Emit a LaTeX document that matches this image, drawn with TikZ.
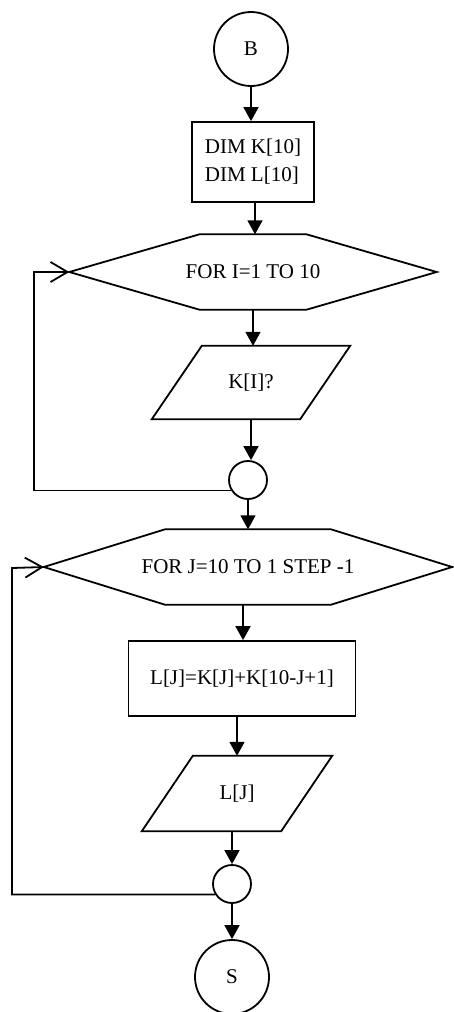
\documentclass[tikz,border=0pt]{standalone}
\usepackage{fontspec}
\setmainfont{Liberation Serif}
\usetikzlibrary{arrows.meta,calc}
\begin{document}
\begin{tikzpicture}[x=1pt,y=-1pt,
  every node/.style={font=\fontsize{21}{28}\selectfont, inner sep=0pt},
  line/.style={line width=1.8pt, line join=miter},
  arr/.style={line, -{Triangle[length=14pt,width=15pt]}},
  barb/.style={line, -{Straight Barb[length=17pt,width=20pt,line width=1.8pt]}},
  term/.style={circle, draw, line width=1.8pt, minimum size=74pt},
  junction/.style={circle, draw, line width=1.8pt, minimum size=38pt},
  procbox/.style={rectangle, draw, line width=1.8pt},
  shapebox/.style={rectangle, draw=none}
]
\useasboundingbox (0,0) rectangle (453,1012);

\node[term] (B) at (251,49) {B};
\node[procbox, minimum width=122pt, minimum height=80pt, align=left] (box) at (253,162) {DIM K[10]\\DIM L[10]};

\node[shapebox, minimum width=367pt, minimum height=75pt] (h1) at (253,272) {FOR I=1 TO 10};
\draw[line] (h1.west) -- ([xshift=-53.5pt]h1.north) -- ([xshift=53.5pt]h1.north) -- (h1.east)
  -- ([xshift=53.5pt]h1.south) -- ([xshift=-53.5pt]h1.south) -- cycle;

\node[shapebox, minimum width=148pt, minimum height=73pt] (p1) at (251,382.5) {K[I]?};
\draw[line] ([xshift=25pt]p1.north west) -- ([xshift=25pt]p1.north east)
  -- ([xshift=-25pt]p1.south east) -- ([xshift=-25pt]p1.south west) -- cycle;

\node[junction] (c1) at (248,480) {};

\node[shapebox, minimum width=408pt, minimum height=75pt] (h2) at (248,567) {FOR J=10 TO 1 STEP -1};
\draw[line] (h2.west) -- ([xshift=-83pt]h2.north) -- ([xshift=83pt]h2.north) -- (h2.east)
  -- ([xshift=83pt]h2.south) -- ([xshift=-83pt]h2.south) -- cycle;

\node[procbox, minimum width=227pt, minimum height=75pt] (r2) at (242,678.5) {L[J]=K[J]+K[10-J+1]};

\node[shapebox, minimum width=139pt, minimum height=75pt] (p2) at (237,793.5) {L[J]};
\draw[line] ([xshift=25.5pt]p2.north west) -- ([xshift=25.5pt]p2.north east)
  -- ([xshift=-25.5pt]p2.south east) -- ([xshift=-25.5pt]p2.south west) -- cycle;

\node[junction] (c2) at (232,884) {};
\node[term] (S) at (232,977) {S};

% main flow
\draw[arr] (B.south) -- (B.south |- box.north);
\draw[arr] ([xshift=2pt]box.south) -- ([xshift=2pt]box.south |- h1.north);
\draw[arr] (h1.south) -- (h1.south |- p1.north);
\draw[arr] (p1.south) -- (p1.south |- c1.north);
\draw[arr] (c1.south) -- (c1.south |- h2.north);
\draw[arr] ([xshift=-5pt]h2.south) -- ([xshift=-5pt]h2.south |- r2.north);
\draw[arr] ([xshift=-5pt]r2.south) -- ([xshift=-5pt]r2.south |- p2.north);
\draw[arr] ([xshift=-5pt]p2.south) -- ([xshift=-5pt]p2.south |- c2.north);
\draw[arr] (c2.south) -- (c2.south |- S.north);

% loops
\coordinate (l1) at (34,272);
\coordinate (l2) at (12,568);
\draw[barb] (c1.212) -| (l1) -- (h1.west);
\draw[barb] (c2.212) -| (l2) -- (h2.west);
\end{tikzpicture}
\end{document}
